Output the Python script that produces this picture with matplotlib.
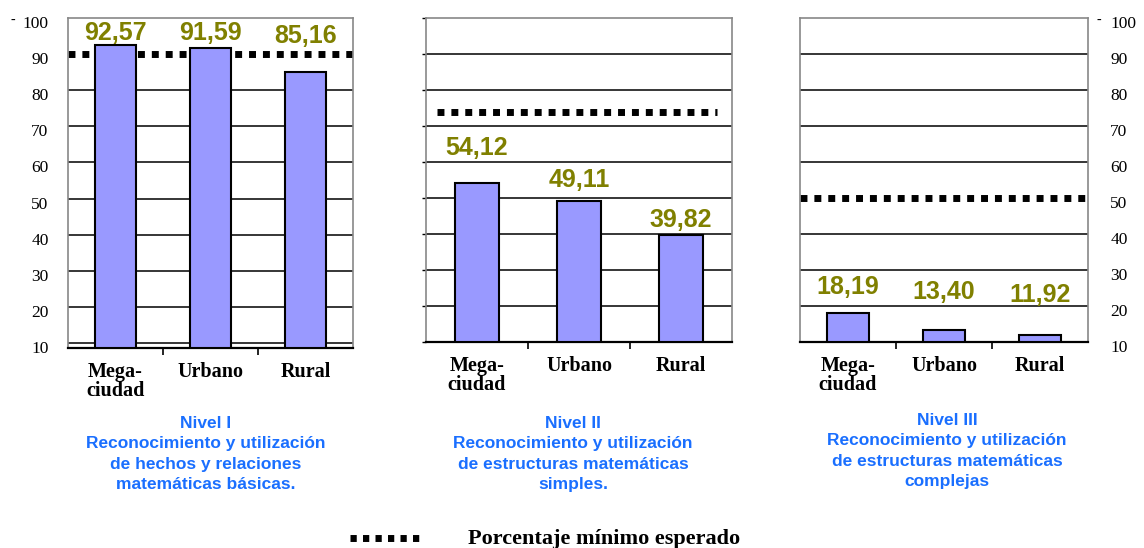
import matplotlib.pyplot as plt
from matplotlib.lines import Line2D
from matplotlib.transforms import ScaledTranslation

# datos
categorias = ["Mega-\nciudad", "Urbano", "Rural"]
nivel_1 = [92.57, 91.59, 85.16]
nivel_2 = [54.12, 49.11, 39.82]
nivel_3 = [18.19, 13.40, 11.92]
minimo_esperado = [90, 74, 50]
etiquetas = [["92,57", "91,59", "85,16"],
             ["54,12", "49,11", "39,82"],
             ["18,19", "13,40", "11,92"]]
titulos = ["Nivel I\nReconocimiento y utilización\nde hechos y relaciones\nmatemáticas básicas.",
           "Nivel II\nReconocimiento y utilización\nde estructuras matemáticas\nsimples.",
           "Nivel III\nReconocimiento y utilización\nde estructuras matemáticas\ncomplejas"]
y_ticks = [10, 20, 30, 40, 50, 60, 70, 80, 90, 100]

# posiciones de las etiquetas de valor (en unidades del eje)
label_y = [[95.8, 95.8, 95.0], [64.0, 55.1, 44.0], [25.2, 23.8, 23.0]]

W, H = 1144, 548
fig = plt.figure(figsize=(W / 100, H / 100), dpi=100)

# rectangulos de cada panel en pixeles: izquierda, arriba, ancho, abajo
paneles = [(68, 18, 285, 348), (426, 18, 306, 342), (800, 18, 288, 342)]
y_bajo = [8.6, 10, 10]
titulo_x = [206, 573, 947]
titulo_y = [416, 416, 413]

serif = "Liberation Serif"
sans = "Liberation Sans"
oliva = "#808000"
azul = "#1a6fff"

for i, valores in enumerate([nivel_1, nivel_2, nivel_3]):
    x0, y0, w, y1 = paneles[i]
    ax = fig.add_axes([x0 / W, 1 - y1 / H, w / W, (y1 - y0) / H])
    ax.set_xlim(-0.5, 2.5)
    ax.set_ylim(y_bajo[i], 100)

    # lineas de cuadricula
    for v in y_ticks[:-1]:
        if v == minimo_esperado[i]:
            continue
        ax.axhline(v, color="black", lw=1.1, zorder=1)

    # linea de porcentaje minimo
    ax.axhline(minimo_esperado[i], color="black", lw=5, ls=(0, (1, 1)),
               xmin=0.0 if i != 1 else 0.035, xmax=1.0 if i != 1 else 0.95, zorder=2)

    # la barra parte desde el fondo del eje
    alturas = [v - y_bajo[i] for v in valores]
    ax.bar(range(3), alturas, width=0.43, bottom=y_bajo[i], color="#9999ff",
           edgecolor="black", lw=1.5, zorder=3)
    for j in range(3):
        ax.text(j, label_y[i][j], etiquetas[i][j], ha="center", va="center",
                color=oliva, fontsize=18, fontweight="bold", family=sans, zorder=4)

    ax.set_xticks(range(3))
    ax.set_xticklabels(categorias, family=serif, fontweight="bold", fontsize=14.5,
                       linespacing=0.95)
    ax.set_xticks([0.5, 1.5], minor=True)
    ax.tick_params(axis="x", which="major", length=0, pad=10)
    ax.tick_params(axis="x", which="minor", length=5, width=1.2, direction="out")

    for s in ["left", "top", "right"]:
        ax.spines[s].set_color("#888888")
        ax.spines[s].set_linewidth(1.2)
    ax.spines["bottom"].set_color("black")
    ax.spines["bottom"].set_linewidth(1.6)

    ax.set_yticks(y_ticks)
    if i == 0:
        ax.set_yticklabels([str(v) for v in y_ticks], family=serif, fontsize=12.5)
        ax.tick_params(axis="y", length=0, pad=14)
    elif i == 2:
        ax.yaxis.tick_right()
        ax.set_yticklabels([str(v) for v in y_ticks], family=serif, fontsize=12.5)
        ax.tick_params(axis="y", length=0, pad=16)
    else:
        ax.set_yticklabels([])
        ax.tick_params(axis="y", length=3, width=1, direction="out", color="black")
    offset = ScaledTranslation(0, -4 / 100, fig.dpi_scale_trans)
    for lab in ax.get_yticklabels():
        lab.set_transform(lab.get_transform() + offset)

    fig.text(titulo_x[i] / W, 1 - titulo_y[i] / H, titulos[i], ha="center", va="top",
             color=azul, fontsize=12.5, fontweight="bold", family=sans, linespacing=1.45)

# pequeñas marcas junto al 100
fig.text(13 / W, 1 - 20 / H, "-", ha="center", va="center", fontsize=10, family=serif)
fig.text(1099 / W, 1 - 20 / H, "-", ha="center", va="center", fontsize=10, family=serif)

# leyenda
fig.add_artist(Line2D([350 / W, 425 / W], [1 - 538 / H, 1 - 538 / H], color="black",
                      lw=5, ls=(0, (0.9, 0.9)), transform=fig.transFigure))
fig.text(468 / W, 1 - 544 / H, "Porcentaje mínimo esperado", ha="left", va="baseline",
         fontsize=16, fontweight="bold", family=serif)

fig.savefig("out.png", dpi=100)
plt.close(fig)
